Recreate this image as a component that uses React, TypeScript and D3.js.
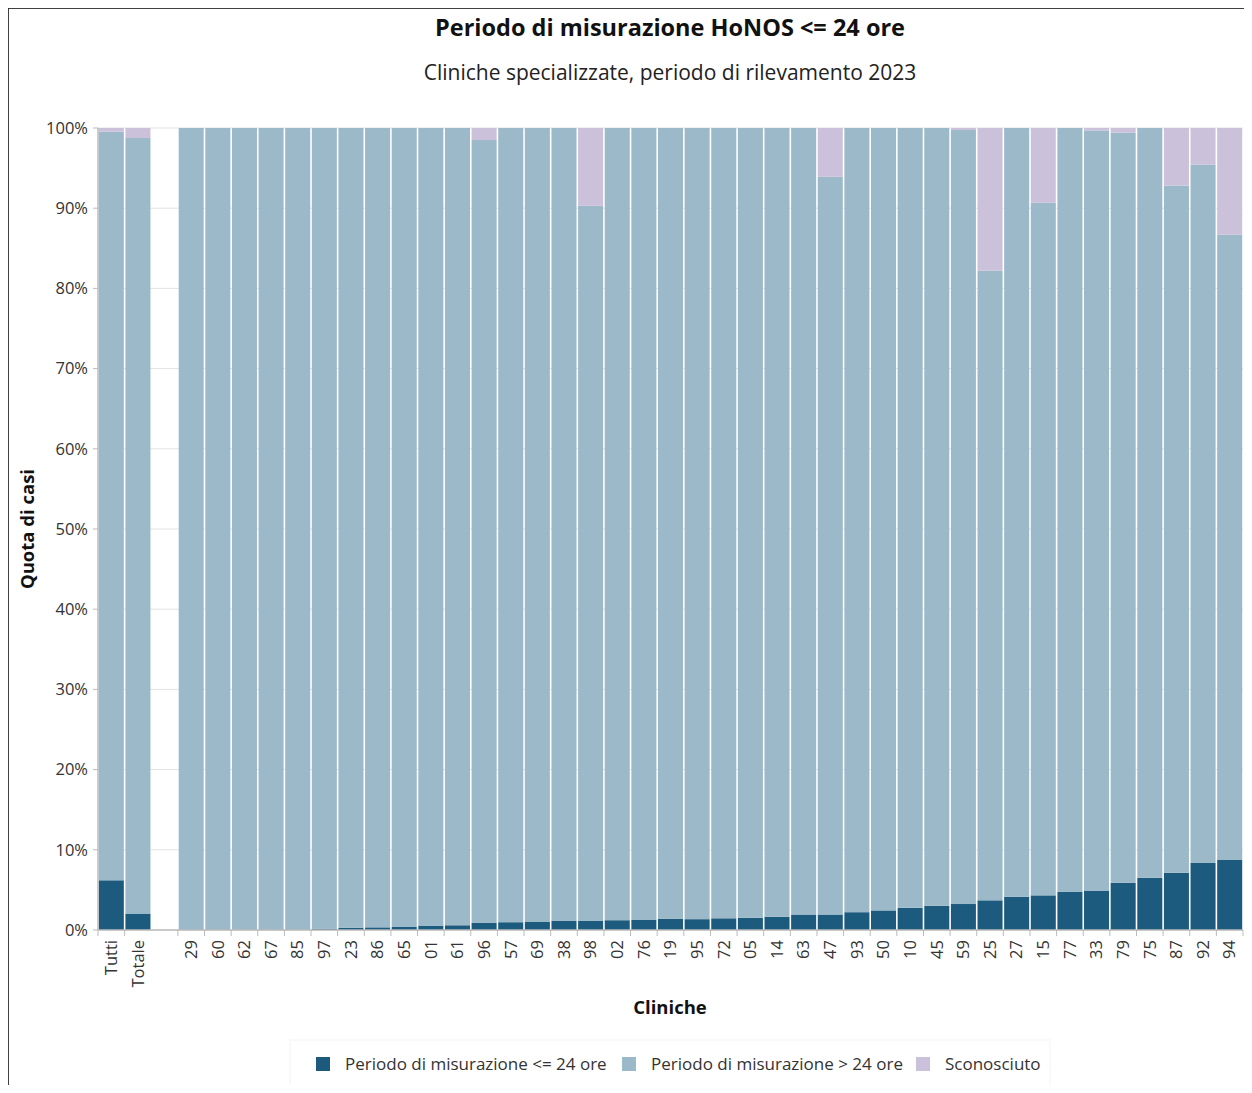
import React from "react";
import * as d3 from "d3";

const categories = ["Tutti", "Totale", "", "29", "60", "62", "67", "85", "97", "23", "86", "65", "01", "61", "96", "57", "69", "38", "98", "02", "76", "19", "95", "72", "05", "14", "63", "47", "93", "50", "10", "45", "59", "25", "27", "15", "77", "33", "79", "75", "87", "92", "94"];
const within24 = [6.2, 2.05, 0, 0, 0, 0, 0, 0, 0.17, 0.29, 0.33, 0.38, 0.55, 0.59, 0.88, 0.97, 1.05, 1.17, 1.17, 1.22, 1.3, 1.38, 1.35, 1.46, 1.52, 1.64, 1.93, 1.93, 2.22, 2.44, 2.77, 3.02, 3.24, 3.7, 4.15, 4.32, 4.75, 4.91, 5.88, 6.5, 7.14, 8.36, 8.78];
const unknown = [0.45, 1.25, 0, 0, 0, 0, 0, 0, 0, 0, 0, 0, 0, 0, 1.5, 0, 0, 0, 9.7, 0, 0, 0, 0, 0, 0, 0, 0, 6.08, 0, 0, 0, 0, 0.25, 17.8, 0, 9.32, 0, 0.3, 0.58, 0, 7.18, 4.56, 13.3];
const hasData = categories.map((c) => c !== "");
const yTicks = [0, 10, 20, 30, 40, 50, 60, 70, 80, 90, 100];
const seriesNames = ["Periodo di misurazione <= 24 ore", "Periodo di misurazione > 24 ore", "Sconosciuto"];
const seriesColors = ["#1c5b7e", "#9bb9c9", "#cbc1db"];

const FONT = "'Segoe UI', 'Open Sans', 'Noto Sans', sans-serif";

export default function App() {
  const W = 1244;
  const H = 1085;
  const left = 90, right = 1235, top = 120, bottom = 922;
  const keys = categories.map((c, i) => (c === "" ? "__blank" + i : c));
  const x = d3.scaleBand<string>().domain(keys).range([left, right]).paddingInner(0.06).paddingOuter(0.03);
  const y = d3.scaleLinear().domain([0, 100]).range([bottom, top]);
  const step = x.step();

  const rows = categories.map((c, i) => {
    if (!hasData[i]) return null;
    const a = within24[i];
    const u = unknown[i];
    const b = 100 - a - u;
    return { key: keys[i], label: c, segs: [[0, a], [a, a + b], [a + b, 100]] };
  });

  const legendX = [308, 614, 908];

  return (
    <svg width={W} height={H} style={{ display: "block", overflow: "visible", fontFamily: FONT, marginBottom: -8, marginRight: -8 }}>
      <line x1={0.5} x2={1260} y1={0} y2={0} stroke="#000" strokeWidth={1.5} />
      <line x1={0} x2={0} y1={0} y2={1100} stroke="#000" strokeWidth={1.5} />

      <text x={662} y={28} textAnchor="middle" fontSize={23.5} fontWeight="bold" fill="#111">
        Periodo di misurazione HoNOS &lt;= 24 ore
      </text>
      <text x={662} y={72} textAnchor="middle" fontSize={21} fill="#222">
        Cliniche specializzate, periodo di rilevamento 2023
      </text>

      {yTicks.map((t) => (
        <g key={t}>
          <line x1={left} x2={right} y1={y(t)} y2={y(t)} stroke="#e3e3e3" strokeWidth={1} />
          <line x1={left - 5} x2={left} y1={y(t)} y2={y(t)} stroke="#bbb" strokeWidth={1} />
          <text x={left - 10} y={y(t)} dy="0.35em" textAnchor="end" fontSize={16.5} fill="#333">
            {t + "%"}
          </text>
        </g>
      ))}

      {rows.map((r) =>
        r ? (
          <g key={r.key}>
            {r.segs.map((s, j) =>
              s[1] - s[0] > 0.001 ? (
                <rect
                  key={j}
                  x={x(r.key)!}
                  width={x.bandwidth()}
                  y={y(s[1])}
                  height={y(s[0]) - y(s[1])}
                  fill={seriesColors[j]}
                />
              ) : null
            )}
          </g>
        ) : null
      )}

      <line x1={left} x2={left} y1={top} y2={bottom} stroke="#bbb" strokeWidth={1.5} />
      <line x1={left} x2={right} y1={bottom} y2={bottom} stroke="#bbb" strokeWidth={1.5} />
      {keys.map((k, i) =>
        hasData[i] ? (
          <g key={k}>
            <line x1={x(k)! - step * 0.03} x2={x(k)! - step * 0.03} y1={bottom} y2={bottom + 6} stroke="#bbb" />
            <text
              transform={`translate(${x(k)! + x.bandwidth() / 2},${bottom + 10}) rotate(-90)`}
              dy="0.35em"
              textAnchor="end"
              fontSize={16.5}
              fill="#333"
            >
              {categories[i]}
            </text>
          </g>
        ) : null
      )}
      <line x1={right} x2={right} y1={bottom} y2={bottom + 6} stroke="#bbb" />

      <text transform={`translate(26,${(top + bottom) / 2}) rotate(-90)`} textAnchor="middle" fontSize={18.5} fontWeight="bold" fill="#111">
        Quota di casi
      </text>
      <text x={662} y={1006} textAnchor="middle" fontSize={18.5} fontWeight="bold" fill="#111">
        Cliniche
      </text>

      <rect x={282} y={1032} width={760} height={46} fill="none" stroke="#f4f4f4" />
      {seriesNames.map((n, i) => (
        <g key={n}>
          <rect x={legendX[i]} y={1049} width={14} height={14} fill={seriesColors[i]} />
          <text x={legendX[i] + 29} y={1062} fontSize={17} fill="#333">
            {n}
          </text>
        </g>
      ))}
    </svg>
  );
}
